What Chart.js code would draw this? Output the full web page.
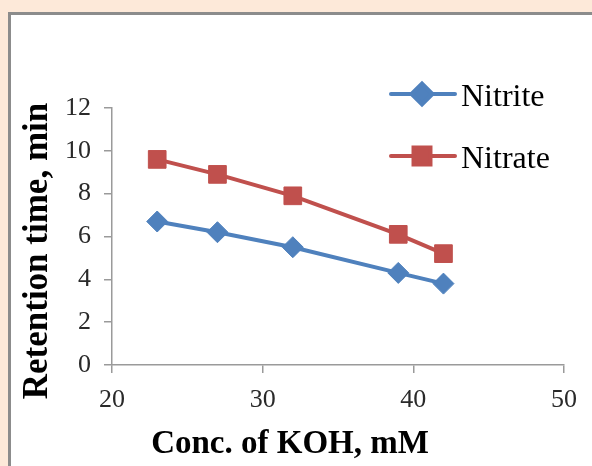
<!DOCTYPE html>
<html>
<head>
<meta charset="utf-8">
<script src="https://cdn.jsdelivr.net/npm/chart.js@4.4.1/dist/chart.umd.min.js"></script>
<style>
  html, body { margin: 0; padding: 0; }
  body { width: 592px; height: 466px; background: #fde9d9; position: relative; overflow: hidden; }
  .panel {
    position: absolute; left: 8px; top: 12px; right: 0; bottom: 0;
    background: #fff;
    border-left: 3px solid #8c8c8c;
    border-top: 3px solid #8c8c8c;
  }
  #chart { position: absolute; left: 0; top: 0; }
</style>
</head>
<body>
<div class="panel"></div>
<canvas id="chart" width="592" height="466"></canvas>
<script>
// KOH concentration (mM) and retention times (min)
const concKOH = [23, 27, 32, 39, 42];
const nitrite = [6.7, 6.2, 5.5, 4.3, 3.8];
const nitrate = [9.6, 8.9, 7.9, 6.1, 5.2];

const xTicks = [20, 30, 40, 50];
const yTicks = [0, 2, 4, 6, 8, 10, 12];

const axisColor = '#9a9a9a';
const serif = '"Liberation Serif", "Times New Roman", serif';

function toPoints(values) {
    return concKOH.map((x, i) => ({ x: x, y: values[i] }));
}

// Legend and axis titles drawn by hand so they can sit where we want
const decorations = {
    id: 'decorations',
    afterDraw(chart) {
        const ctx = chart.ctx;
        ctx.save();

        // legend, stacked top-right inside the plot
        const rows = [94, 156];
        chart.data.datasets.forEach((ds, i) => {
            const y = rows[i];
            ctx.strokeStyle = ds.borderColor;
            ctx.lineWidth = ds.borderWidth;
            ctx.lineCap = 'round';
            ctx.beginPath();
            ctx.moveTo(391, y);
            ctx.lineTo(455, y);
            ctx.stroke();

            ctx.fillStyle = ds.pointBackgroundColor;
            ctx.strokeStyle = ds.pointBorderColor;
            Chart.helpers.drawPoint(ctx, {
                pointStyle: ds.pointStyle,
                radius: ds.legendRadius,
                rotation: 0,
                borderWidth: 1
            }, 422, y);

            ctx.fillStyle = '#000';
            ctx.font = '32px ' + serif;
            ctx.textAlign = 'left';
            ctx.textBaseline = 'alphabetic';
            ctx.fillText(ds.label, 461, y + 12);
        });

        // axis titles
        ctx.fillStyle = '#000';
        ctx.textAlign = 'center';
        ctx.textBaseline = 'alphabetic';
        ctx.font = 'bold 33px ' + serif;
        ctx.fillText('Conc. of KOH, mM', 290, 453);

        ctx.translate(47, 251);
        ctx.rotate(-Math.PI / 2);
        ctx.font = 'bold 35px ' + serif;
        ctx.fillText('Retention time, min', 0, 0);

        ctx.restore();
    }
};

const ctx = document.getElementById('chart').getContext('2d');
const chart = new Chart(ctx, {
    type: 'line',
    data: {
        datasets: [{
            label: 'Nitrite',
            data: toPoints(nitrite),
            borderColor: '#4f81bd',
            backgroundColor: '#4f81bd',
            borderWidth: 4,
            pointStyle: 'rectRot',
            pointRadius: 10.5,
            legendRadius: 10.5,
            pointBackgroundColor: '#4f81bd',
            pointBorderColor: '#4f81bd',
            pointBorderWidth: 1,
            tension: 0
        }, {
            label: 'Nitrate',
            data: toPoints(nitrate),
            borderColor: '#c0504d',
            backgroundColor: '#c0504d',
            borderWidth: 4,
            pointStyle: 'rect',
            pointRadius: 12.5,
            legendRadius: 12,
            pointBackgroundColor: '#c0504d',
            pointBorderColor: '#c0504d',
            pointBorderWidth: 1,
            tension: 0
        }]
    },
    options: {
        responsive: false,
        animation: false,
        layout: { padding: { top: 108, right: 28, left: 0, bottom: 0 } },
        plugins: {
            legend: { display: false },
            tooltip: { enabled: false }
        },
        scales: {
            x: {
                type: 'linear',
                min: xTicks[0],
                max: xTicks[xTicks.length - 1],
                afterBuildTicks: s => { s.ticks = xTicks.map(v => ({ value: v })); },
                afterFit: s => { s.height = 101; s.paddingLeft = 0; s.paddingRight = 0; },
                grid: { drawOnChartArea: false, color: axisColor, lineWidth: 1.5, tickLength: 8 },
                border: { color: axisColor, width: 1.5 },
                ticks: {
                    padding: 12,
                    color: '#2a2a2a',
                    font: { family: serif, size: 26 }
                }
            },
            y: {
                min: yTicks[0],
                max: yTicks[yTicks.length - 1],
                afterBuildTicks: s => { s.ticks = yTicks.map(v => ({ value: v })); },
                afterFit: s => { s.width = 112; s.paddingTop = 0; s.paddingBottom = 0; },
                grid: { drawOnChartArea: false, color: axisColor, lineWidth: 1.5, tickLength: 8 },
                border: { color: axisColor, width: 1.5 },
                ticks: {
                    padding: 13,
                    color: '#2a2a2a',
                    font: { family: serif, size: 26 }
                }
            }
        }
    },
    plugins: [decorations]
});
</script>
</body>
</html>
